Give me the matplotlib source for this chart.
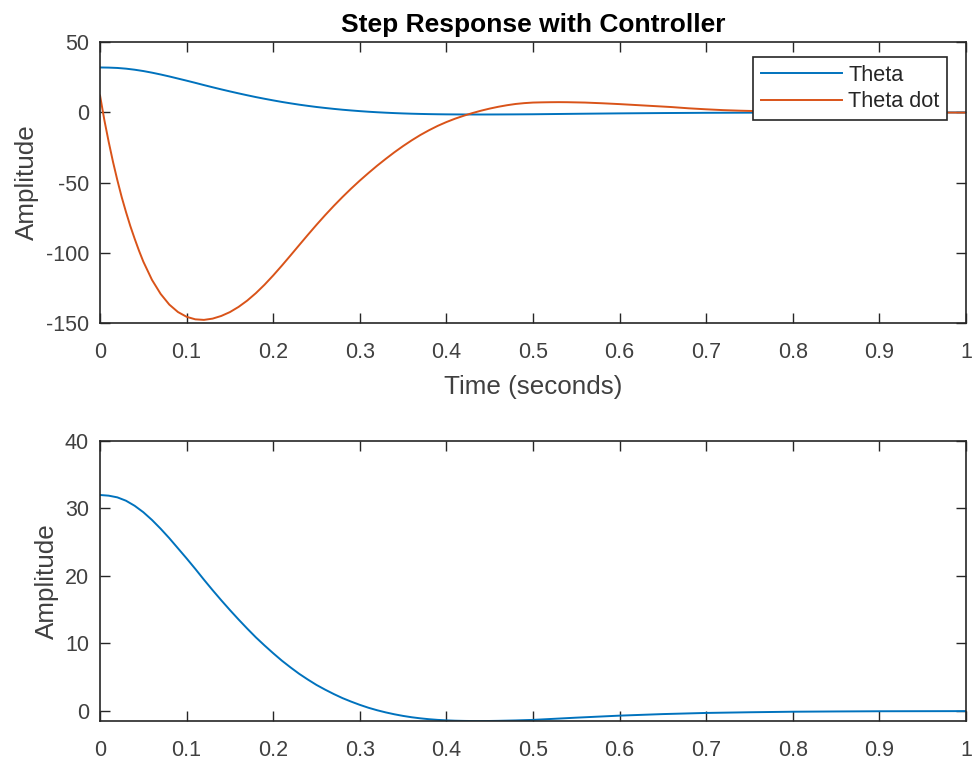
import matplotlib
matplotlib.use("Agg")
import matplotlib.pyplot as plt
from matplotlib.ticker import FuncFormatter

plt.rcParams['font.family'] = ['Liberation Sans', 'DejaVu Sans']

# Theta (bottom plot & top blue line)
t_theta = [0.00, 0.01, 0.02, 0.03, 0.04, 0.05, 0.06, 0.07, 0.08, 0.09,
           0.10, 0.11, 0.12, 0.13, 0.14, 0.15, 0.16, 0.17, 0.18, 0.19,
           0.20, 0.21, 0.22, 0.23, 0.24, 0.25, 0.26, 0.27, 0.28, 0.29,
           0.30, 0.31, 0.32, 0.33, 0.34, 0.35, 0.36, 0.37, 0.38, 0.39,
           0.40, 0.41, 0.42, 0.43, 0.44, 0.45, 0.46, 0.48, 0.50, 0.52,
           0.55, 0.60, 0.65, 0.70, 0.75, 0.80, 0.85, 0.90, 0.95, 1.00]
theta = [32.0, 31.9, 31.65, 31.15, 30.4, 29.45, 28.3, 27.0, 25.6, 24.1,
         22.6, 21.05, 19.45, 17.9, 16.4, 14.95, 13.55, 12.2, 10.9, 9.7,
         8.55, 7.45, 6.45, 5.5, 4.65, 3.85, 3.15, 2.5, 1.9, 1.38,
         0.9, 0.47, 0.1, -0.22, -0.5, -0.74, -0.94, -1.1, -1.23, -1.33,
         -1.4, -1.45, -1.48, -1.5, -1.5, -1.49, -1.47, -1.41, -1.33, -1.2,
         -1.0, -0.7, -0.47, -0.3, -0.2, -0.12, -0.08, -0.05, -0.04, -0.03]

# Theta dot (top orange line)
t_dot = [0.000, 0.005, 0.010, 0.015, 0.020, 0.025, 0.030, 0.035, 0.040, 0.045,
         0.05, 0.06, 0.07, 0.08, 0.09, 0.10, 0.11, 0.12, 0.13, 0.14,
         0.15, 0.16, 0.17, 0.18, 0.19, 0.20, 0.21, 0.22, 0.23, 0.24,
         0.25, 0.26, 0.27, 0.28, 0.29, 0.30, 0.31, 0.32, 0.33, 0.34,
         0.35, 0.36, 0.37, 0.38, 0.39, 0.40, 0.41, 0.42, 0.43, 0.44,
         0.45, 0.46, 0.47, 0.48, 0.49, 0.50, 0.51, 0.52, 0.53, 0.54,
         0.56, 0.58, 0.60, 0.62, 0.64, 0.66, 0.68, 0.70, 0.72, 0.74,
         0.76, 0.80, 0.85, 0.90, 0.95, 1.00]
theta_dot = [12, -5.5, -21, -35.3, -48.3, -60.3, -71, -81, -90, -98.5,
             -106.3, -119.3, -129.3, -136.9, -142.2, -145.6, -147.4, -147.8, -146.9, -145.0,
             -142.25, -138.55, -134.05, -128.75, -122.75, -116.15, -109.15, -101.9, -94.55, -87.25,
             -80.1, -73.2, -66.6, -60.3, -54.3, -48.6, -43.2, -38.0, -33.1, -28.4,
             -24.0, -19.9, -16.1, -12.7, -9.6, -6.9, -4.5, -2.4, -0.5, 1.2,
             2.7, 4.0, 5.1, 6.0, 6.6, 7.0, 7.15, 7.25, 7.3, 7.25,
             7.0, 6.5, 5.9, 5.2, 4.5, 3.8, 2.9, 2.2, 1.6, 1.2,
             0.9, 0.5, 0.2, 0.0, -0.1, -0.15]

x_ticks = [0, 0.1, 0.2, 0.3, 0.4, 0.5, 0.6, 0.7, 0.8, 0.9, 1]
top_yticks = [-150, -100, -50, 0, 50]
bottom_yticks = [0, 10, 20, 30, 40]

BLUE = '#0072BD'
ORANGE = '#D95319'
AX = '#262626'
TXT = '#404040'

fig = plt.figure(figsize=(9.75, 7.63), dpi=100)
ax1 = fig.add_axes([0.1026, 0.5767, 0.888, 0.368])
ax2 = fig.add_axes([0.1026, 0.055, 0.888, 0.367])

fmt = FuncFormatter(lambda v, p: ('%g' % v))

def style(ax):
    ax.tick_params(direction='in', length=7, width=1.0, top=True, right=True,
                   labelsize=15.5, colors=AX, labelcolor=TXT)
    ax.tick_params(axis='x', pad=14)
    ax.tick_params(axis='y', pad=8)
    for s in ax.spines.values():
        s.set_color(AX)
        s.set_linewidth(1.2)
    ax.xaxis.set_major_formatter(fmt)
    ax.yaxis.set_major_formatter(fmt)

ax1.plot(t_theta, theta, color=BLUE, lw=1.4, label='Theta')
ax1.plot(t_dot, theta_dot, color=ORANGE, lw=1.4, label='Theta dot')
ax1.set_xlim(0, 1)
ax1.set_ylim(-150, 50)
ax1.set_xticks(x_ticks)
ax1.set_yticks(top_yticks)
style(ax1)
ax1.set_xlabel('Time (seconds)', fontsize=18.7, color=TXT, labelpad=8.5)
ax1.set_ylabel('Amplitude', fontsize=18.7, color=TXT, labelpad=4.5)
ax1.set_title('Step Response with Controller', fontsize=19, fontweight='bold',
              color='black', pad=7)
leg = ax1.legend(loc='upper right', bbox_to_anchor=(0.9784, 0.9456), borderaxespad=0,
                 fontsize=15.6, frameon=True, fancybox=False, edgecolor=AX, framealpha=1,
                 handlelength=3.75, borderpad=0.35, labelspacing=0.25, handletextpad=0.3)
leg.get_frame().set_linewidth(1.2)
for txt in leg.get_texts():
    txt.set_color(AX)

ax2.plot(t_theta, theta, color=BLUE, lw=1.4)
ax2.set_xlim(0, 1)
ax2.set_ylim(-1.5, 40)
ax2.set_xticks(x_ticks)
ax2.set_yticks(bottom_yticks)
style(ax2)
ax2.set_ylabel('Amplitude', fontsize=18.7, color=TXT, labelpad=4.5)

fig.savefig('out.png', dpi=100, facecolor='white')
